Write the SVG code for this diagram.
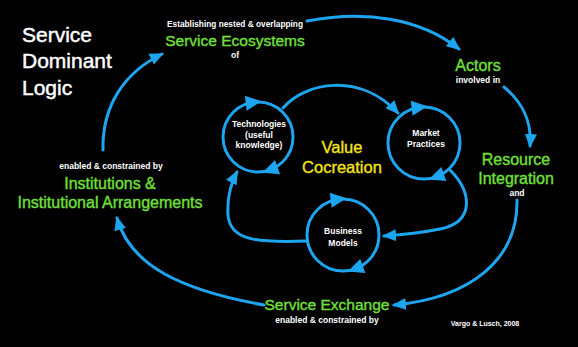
<svg xmlns="http://www.w3.org/2000/svg" width="578" height="347" viewBox="0 0 578 347">
<style>
.t{font-family:"Liberation Sans",Arial,sans-serif;text-anchor:middle}
.w{fill:#ffffff;font-weight:bold;font-size:8.5px}
.c{fill:#ffffff;font-weight:bold;font-size:8.5px}
.g{fill:#72e03a;stroke:#72e03a;stroke-width:0.35;font-size:16px}
.y{fill:#f4e31c;stroke:#f4e31c;stroke-width:0.35;font-size:16.5px}
.h{fill:#ffffff;stroke:#ffffff;stroke-width:0.45;font-size:21px;text-anchor:start}
.ln{fill:none;stroke:#1da6ef;stroke-width:3;stroke-linecap:round}
.ah{fill:#1da6ef}
</style>
<defs>
<marker id="arr" viewBox="0 0 14 12" refX="12" refY="6" markerWidth="14" markerHeight="12" markerUnits="userSpaceOnUse" orient="auto">
<path d="M0,0 L14,6 L0,12 Z" fill="#1da6ef"/>
</marker>
<path id="tri" d="M8,0 L-8,-7.5 L-8,7.5 Z"/>
</defs>
<rect width="578" height="347" fill="#000000"/>

<g id="title">
<text class="t h" x="22" y="42">Service</text>
<text class="t h" x="22" y="68">Dominant</text>
<text class="t h" x="22" y="95">Logic</text>
</g>

<g id="connectors">
<path class="ln" marker-end="url(#arr)" d="M103,150 C102,105 125,72 162,54"/>
<path class="ln" marker-end="url(#arr)" d="M307,21 C365,10 420,18 459,49"/>
<path class="ln" marker-end="url(#arr)" d="M504,87 C522,102 532,120 530,146"/>
<path class="ln" marker-end="url(#arr)" d="M517,200 C518,260 470,298 394,305"/>
<path class="ln" marker-end="url(#arr)" d="M264,305 C180,290 130,265 117,218"/>
<path class="ln" marker-end="url(#arr)" d="M283,108 C305,82 360,72 398,113"/>
<path class="ln" marker-end="url(#arr)" d="M450,170 C472,192 475,222 440,229 C420,233 400,235 384,236"/>
<path class="ln" marker-end="url(#arr)" d="M307,241 C255,243 230,240 228,215 C227,198 230,185 237,172"/>
</g>

<g id="ecosystems">
<text class="t w" x="235" y="27" style="font-size:8.3px">Establishing nested &amp; overlapping</text>
<text class="t g" x="235" y="46" style="font-size:15.5px">Service Ecosystems</text>
<text class="t w" x="235" y="58">of</text>
</g>

<g id="actors">
<text class="t g" x="478" y="71">Actors</text>
<text class="t w" x="478" y="83">involved in</text>
</g>

<g id="resource-integration">
<text class="t g" x="516" y="165">Resource</text>
<text class="t g" x="516" y="184">Integration</text>
<text class="t w" x="517" y="196">and</text>
</g>

<g id="service-exchange">
<text class="t g" x="327" y="310" style="font-size:15.5px">Service Exchange</text>
<text class="t w" x="327" y="323">enabled &amp; constrained by</text>
</g>

<g id="institutions">
<text class="t w" x="111" y="169">enabled &amp; constrained by</text>
<text class="t g" x="110" y="189">Institutions &amp;</text>
<text class="t g" x="110" y="208">Institutional Arrangements</text>
</g>

<g id="value-cocreation">
<text class="t y" x="342" y="153">Value</text>
<text class="t y" x="342" y="173">Cocreation</text>
</g>

<g id="technologies">
<circle class="ln" cx="258" cy="137" r="35"/>
<use href="#tri" class="ah" transform="translate(253.7,102.3) rotate(-7)"/>
<use href="#tri" class="ah" transform="translate(270,169.9) rotate(160)"/>
<text class="t c" x="259" y="127">Technologies</text>
<text class="t c" x="259" y="138">(useful</text>
<text class="t c" x="259" y="148">knowledge)</text>
</g>

<g id="market-practices">
<circle class="ln" cx="424" cy="143" r="36"/>
<use href="#tri" class="ah" transform="translate(419.6,107.3) rotate(-7)"/>
<use href="#tri" class="ah" transform="translate(436.3,176.8) rotate(160)"/>
<text class="t c" x="426" y="136">Market</text>
<text class="t c" x="426" y="147">Practices</text>
</g>

<g id="business-models">
<circle class="ln" cx="343" cy="235" r="36"/>
<use href="#tri" class="ah" transform="translate(338.6,199.3) rotate(-7)"/>
<use href="#tri" class="ah" transform="translate(355.3,268.8) rotate(160)"/>
<text class="t c" x="343" y="234">Business</text>
<text class="t c" x="343" y="246">Models</text>
</g>

<g id="citation">
<text class="t" x="485" y="326" style="fill:#fff;font-weight:bold;font-size:7px">Vargo &amp; Lusch, 2008</text>
</g>
</svg>
